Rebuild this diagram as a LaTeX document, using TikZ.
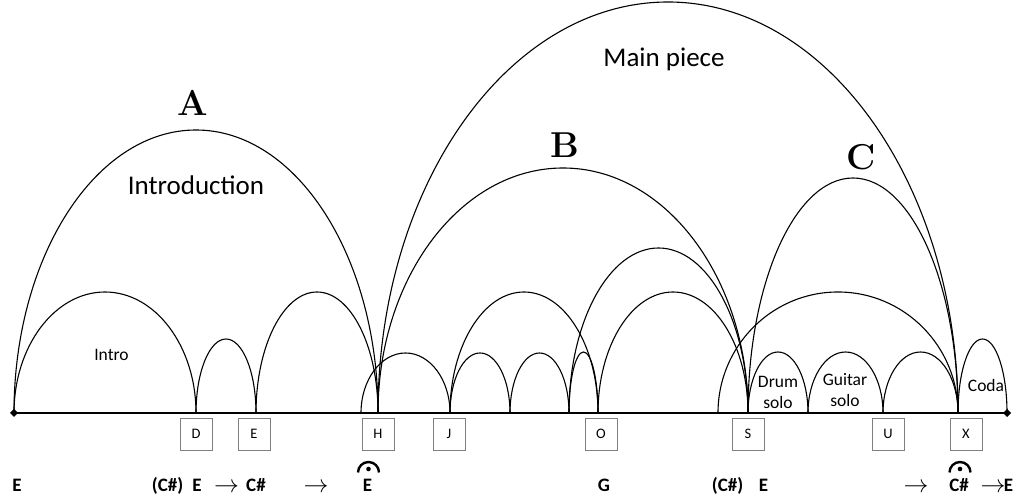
\documentclass[tikz,border=0pt]{standalone}
\usepackage{fontspec}
\newfontfamily\calib{Carlito}
\begin{document}
\begin{tikzpicture}[x=1pt,y=1pt,line width=1.1pt,
    section/.style={font=\fontsize{36}{36}\selectfont\bfseries},
    part/.style={font=\calib\fontsize{27}{30}\selectfont, anchor=base},
    sub/.style={font=\calib\fontsize{17.5}{20.5}\selectfont, align=center, anchor=base},
    markbox/.style={draw=gray, line width=0.8pt, minimum width=32pt, minimum height=32pt,
        inner sep=0pt, font=\calib\fontsize{14.5}{15}\selectfont},
    key/.style={font=\calib\bfseries\fontsize{19}{20}\selectfont, anchor=base},
    keyarrow/.style={key, font=\calib\bfseries\fontsize{25}{25}\selectfont}]
    \useasboundingbox (0,-89) rectangle (1020,413);

    % Time line
    \draw[line width=1.4pt] (14,0) -- (1007,0);
    \fill (14,0) +(-4,0) -- +(0,4) -- +(4,0) -- +(0,-4) -- cycle;
    \fill (1007,0) +(-4,0) -- +(0,4) -- +(4,0) -- +(0,-4) -- cycle;

    % Arcs: start / end / height
    \foreach \a/\b/\h in {14/378/283, 14/196/121, 196/256/74, 256/378/121,
        378/958/411, 378/748/245, 748/958/235,
        361/450/60, 450/510/60, 510/569/60, 569/598/61,
        450/598/121, 569/748/165, 598/748/121,
        718/958/121, 748/808/61, 808/883/61, 883/958/61, 958/1007/74}
        \draw (\a,0) arc[start angle=180, end angle=0, x radius={(\b-\a)/2}, y radius=\h];

    % Section letters and names
    \node[section] (secA) at (193,310) {A};
    \node[section] (secB) at (565,268) {B};
    \node[section] (secC) at (861,256) {C};
    \node[part] (intro) at (196,218) {Introduction};
    \node[part] (mainp) at (664,346) {Main piece};
    \node[sub] (introS) at (111.5,52) {Intro};
    \node[sub] (drum) at (778,4.5) {Drum\\solo};
    \node[sub] (guitar) at (845,6.5) {Guitar\\solo};
    \node[sub] (coda) at (986,21) {Coda};

    % Rehearsal marks
    \foreach \x/\m in {196/D, 254/E, 378/H, 449/J, 601/O, 748/S, 888/U, 966/X}
        \node[markbox] (box\m) at (\x,-21) {\m};

    % Keys
    \node[key] (keyA) at (17,-79) {E};
    \node[key] (keyD1) at (167.5,-79) {(C\#)};
    \node[key] (keyD2) at (197,-79) {E};
    \node[keyarrow] (arr1) at (226.5,-80) {$\rightarrow$};
    \node[key] (keyE) at (256,-79) {C\#};
    \node[keyarrow] (arr2) at (316,-80) {$\rightarrow$};
    \node[key] (keyH) at (367.5,-79) {E};
    \node[key] (keyO) at (604,-79) {G};
    \node[key] (keyS1) at (727.5,-79) {(C\#)};
    \node[key] (keyS2) at (763.5,-79) {E};
    \node[keyarrow] (arr3) at (916,-80) {$\rightarrow$};
    \node[key] (keyX) at (959,-79) {C\#};
    \node[keyarrow] (arr4) at (993,-80) {$\rightarrow$};
    \node[key] (keyEnd) at (1008.5,-79) {E};

    % Fermatas
    \draw[line width=2.4pt] (358,-59.5) arc[start angle=180, end angle=0, radius=10.5];
    \fill (368.5,-56) circle (2.3);
    \draw[line width=2.4pt] (949.5,-59.5) arc[start angle=180, end angle=0, radius=10.5];
    \fill (960,-56) circle (2.3);
\end{tikzpicture}
\end{document}
